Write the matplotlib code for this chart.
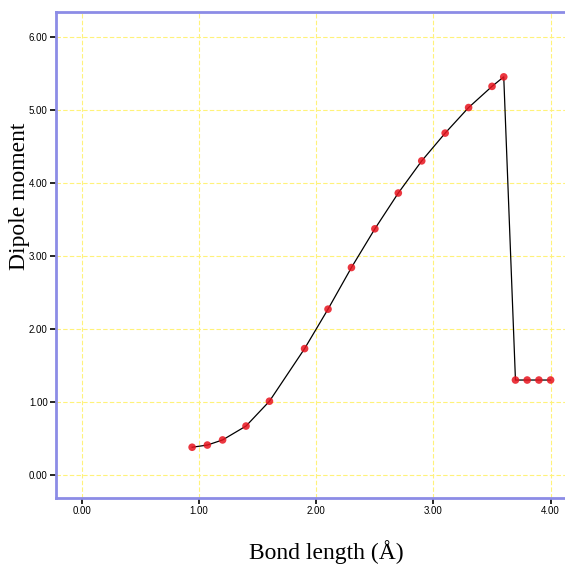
import matplotlib
matplotlib.use("Agg")
import matplotlib.pyplot as plt

# bond length (Angstrom) and dipole moment
bond_length = [0.94, 1.07, 1.20, 1.40, 1.60, 1.90, 2.10, 2.30, 2.50, 2.70,
               2.90, 3.10, 3.30, 3.50, 3.60, 3.70, 3.80, 3.90, 4.00]
dipole = [0.38, 0.41, 0.48, 0.67, 1.01, 1.73, 2.27, 2.84, 3.37, 3.86,
          4.30, 4.68, 5.03, 5.32, 5.45, 1.30, 1.30, 1.30, 1.30]

xticks = [0, 1, 2, 3, 4]
yticks = [0, 1, 2, 3, 4, 5, 6]

fig = plt.figure(figsize=(5.65, 5.64), dpi=100)
ax = fig.add_axes([0.0991, 0.117, 0.92, 0.862])

ax.plot(bond_length, dipole, color="black", lw=0.9, zorder=2)
ax.scatter(bond_length, dipole, s=30, color="#e8141e", alpha=0.85,
           edgecolors="none", zorder=3)

ax.set_xlim(-0.222, 4.128 + 0.02 * 4.35)
ax.set_ylim(-0.315, 6.34)
ax.set_xticks(xticks)
ax.set_yticks(yticks)
ax.set_xticklabels([f"{v:.2f}" for v in xticks], fontsize=7, family="Liberation Sans")
ax.set_yticklabels([f"{v:.2f}" for v in yticks], fontsize=7, family="Liberation Sans")
ax.tick_params(direction="out", length=4, width=1.2, color="black", pad=2)

ax.grid(True, color="#fff27a", ls=(0, (4, 2)), lw=0.8)
ax.set_axisbelow(True)

for s in ax.spines.values():
    s.set_color("#8c8ce6")
    s.set_linewidth(2)
ax.spines["right"].set_visible(False)

fig.text(0.035, 0.652, "Dipole moment", rotation=90, ha="center", va="center",
         fontsize=17, family="Liberation Serif")
fig.text(0.577, 0.021, "Bond length (Å)", ha="center", va="center",
         fontsize=17, family="Liberation Serif")

fig.savefig("out.png", dpi=100)
